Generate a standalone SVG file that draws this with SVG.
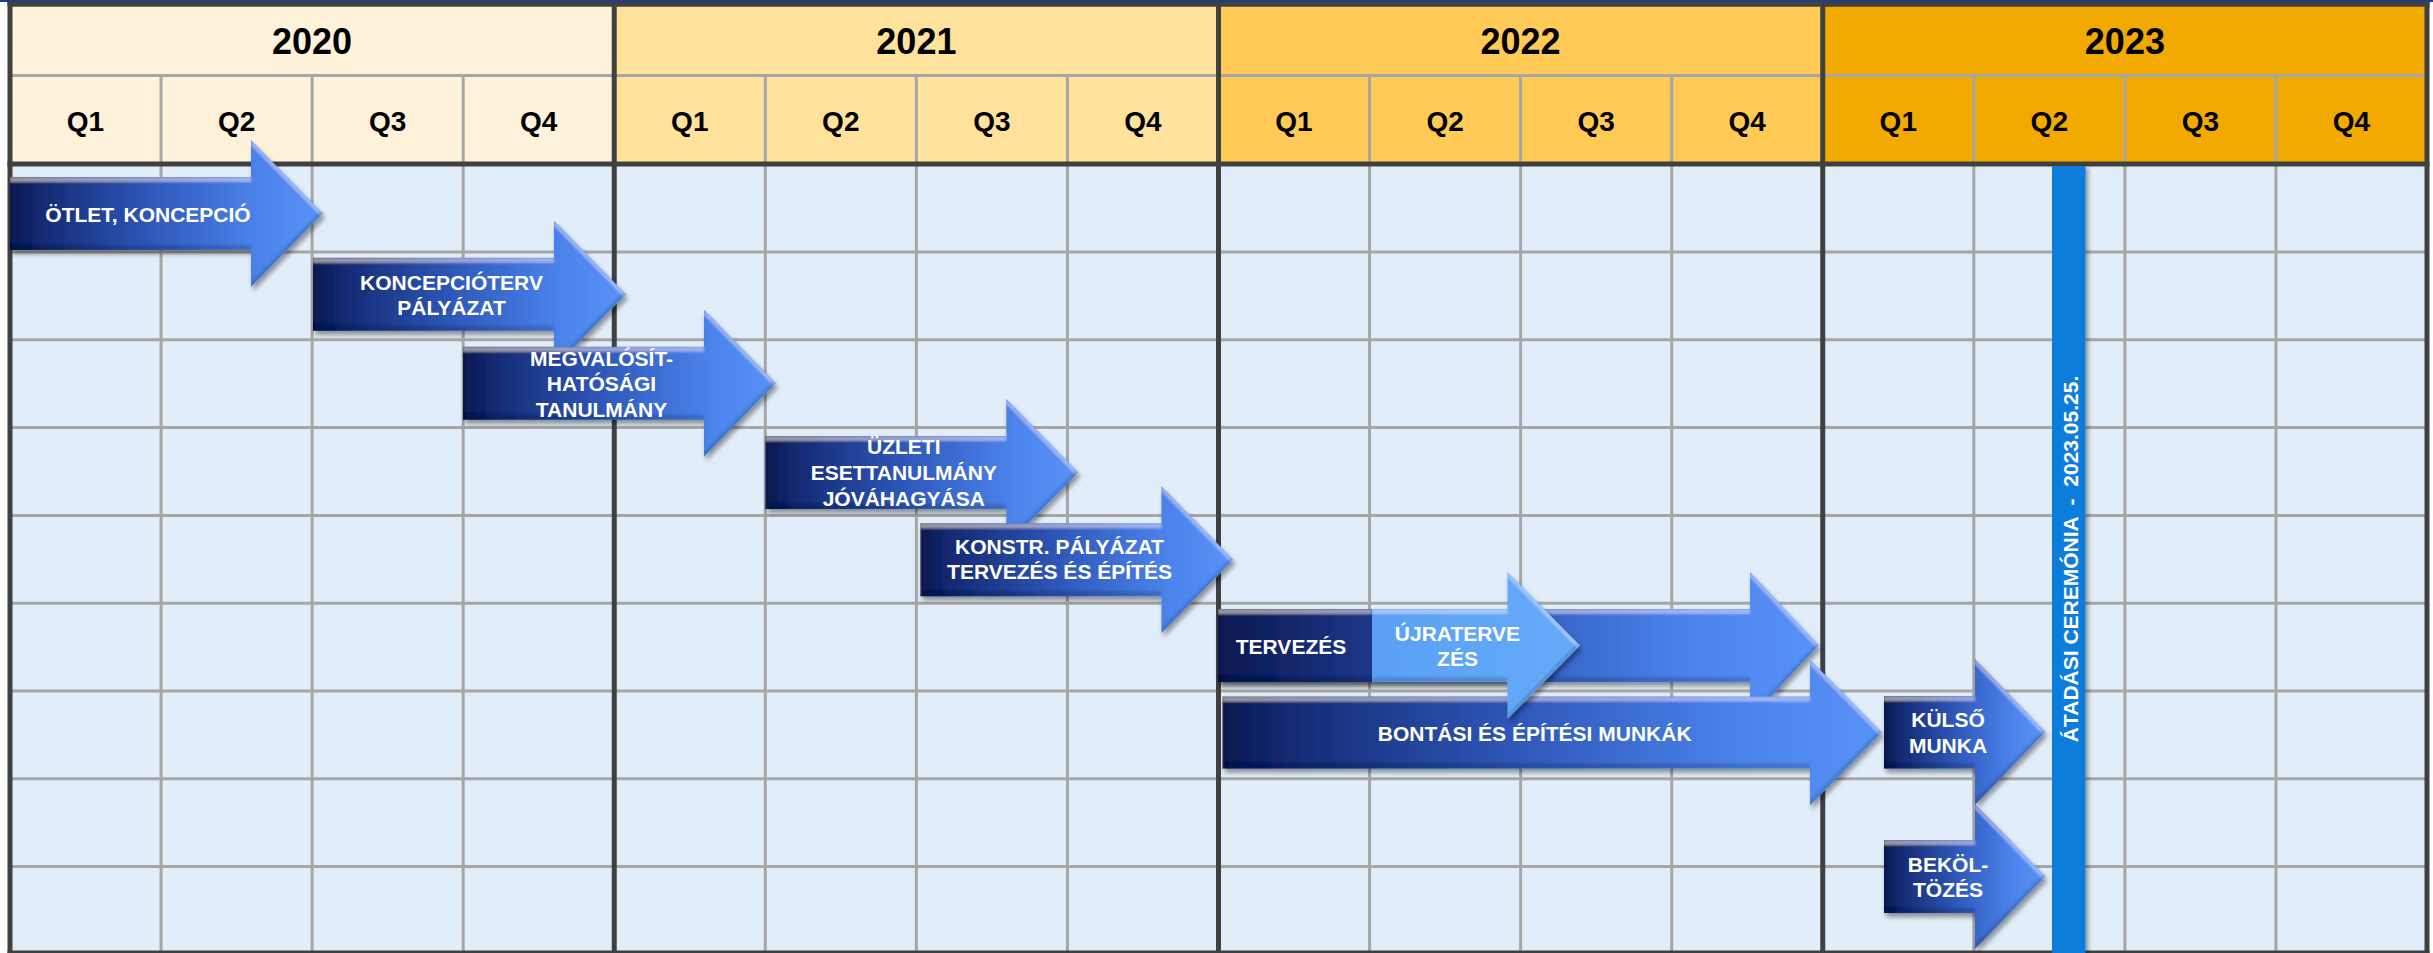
<svg xmlns="http://www.w3.org/2000/svg" width="2433" height="953" viewBox="0 0 2433 953">
<defs>
<style>
.yr{font-family:"Liberation Sans",Arial,sans-serif;font-weight:bold;font-size:36px;fill:#000;text-anchor:middle}
.q{font-family:"Liberation Sans",Arial,sans-serif;font-weight:bold;font-size:28px;fill:#000;text-anchor:middle}
.lbl{font-family:"Liberation Sans",Arial,sans-serif;font-weight:bold;font-size:21px;fill:#fff;text-anchor:middle}
.g{stroke:#A6A6A6;stroke-width:3;fill:none}
.d{stroke:#404040;stroke-width:5;fill:none}
.arr{fill:url(#ag);filter:url(#bev)}
</style>
<linearGradient id="ag" x1="0" y1="0" x2="1" y2="0">
<stop offset="0" stop-color="#0A184F"/>
<stop offset="0.1" stop-color="#142A72"/>
<stop offset="0.45" stop-color="#2F58BA"/>
<stop offset="0.8" stop-color="#4C84EC"/>
<stop offset="1" stop-color="#5893F6"/>
</linearGradient>
<linearGradient id="dg" x1="0" y1="0" x2="1" y2="0">
<stop offset="0" stop-color="#0A184F"/>
<stop offset="1" stop-color="#1E378A"/>
</linearGradient>
<linearGradient id="lg" x1="0" y1="0" x2="1" y2="0">
<stop offset="0" stop-color="#5AA0F5"/>
<stop offset="1" stop-color="#66ABF9"/>
</linearGradient>
<filter id="bev" x="-5%" y="-20%" width="115%" height="150%">
<feGaussianBlur in="SourceAlpha" stdDeviation="2.5" result="b"/>
<feOffset in="b" dx="2" dy="4" result="ob"/>
<feComponentTransfer in="ob" result="sh"><feFuncA type="linear" slope="0.4"/></feComponentTransfer>
<feOffset in="SourceAlpha" dx="0" dy="5" result="dn"/>
<feComposite in="SourceAlpha" in2="dn" operator="out" result="topband"/>
<feGaussianBlur in="topband" stdDeviation="1.2" result="tb"/>
<feFlood flood-color="#FFFFFF" flood-opacity="0.3"/>
<feComposite in2="tb" operator="in" result="hl"/>
<feComposite in="hl" in2="SourceAlpha" operator="in" result="hl2"/>
<feOffset in="SourceAlpha" dx="0" dy="-5" result="up"/>
<feComposite in="SourceAlpha" in2="up" operator="out" result="botband"/>
<feGaussianBlur in="botband" stdDeviation="1.2" result="bb"/>
<feFlood flood-color="#000000" flood-opacity="0.3"/>
<feComposite in2="bb" operator="in" result="dk"/>
<feComposite in="dk" in2="SourceAlpha" operator="in" result="dk2"/>
<feMerge><feMergeNode in="sh"/><feMergeNode in="SourceGraphic"/><feMergeNode in="hl2"/><feMergeNode in="dk2"/></feMerge>
</filter>
<filter id="bsh" x="-30%" y="-2%" width="180%" height="104%">
<feGaussianBlur in="SourceAlpha" stdDeviation="2" result="b"/>
<feOffset in="b" dx="3" dy="2" result="ob"/>
<feComponentTransfer in="ob" result="sh"><feFuncA type="linear" slope="0.35"/></feComponentTransfer>
<feMerge><feMergeNode in="sh"/><feMergeNode in="SourceGraphic"/></feMerge>
</filter>
<path id="a313" d="M0,0 H241 V-37 L313,36.5 L241,110 V73 H0 Z"/>
</defs>

<g id="background">
<rect x="0" y="0" width="2433" height="953" fill="#FFFFFF"/>
<rect x="0" y="0" width="2433" height="2" fill="#1F3C88"/>
<rect x="10" y="4" width="604.25" height="160" fill="#FEF2DB"/>
<rect x="614.25" y="4" width="604.25" height="160" fill="#FFE29C"/>
<rect x="1218.5" y="4" width="604.25" height="160" fill="#FFCA55"/>
<rect x="1822.75" y="4" width="604.25" height="160" fill="#F2AA00"/>
<rect x="10" y="164" width="2417" height="789" fill="#E1EDF8"/>
</g>

<g id="grid">
<line class="g" x1="10" y1="75.5" x2="2427" y2="75.5"/>
<line class="g" x1="10" y1="252" x2="2427" y2="252"/>
<line class="g" x1="10" y1="339.8" x2="2427" y2="339.8"/>
<line class="g" x1="10" y1="427.6" x2="2427" y2="427.6"/>
<line class="g" x1="10" y1="515.4" x2="2427" y2="515.4"/>
<line class="g" x1="10" y1="603.2" x2="2427" y2="603.2"/>
<line class="g" x1="10" y1="691" x2="2427" y2="691"/>
<line class="g" x1="10" y1="778.8" x2="2427" y2="778.8"/>
<line class="g" x1="10" y1="866.6" x2="2427" y2="866.6"/>
<line class="g" x1="161.06" y1="75.5" x2="161.06" y2="953"/>
<line class="g" x1="312.13" y1="75.5" x2="312.13" y2="953"/>
<line class="g" x1="463.19" y1="75.5" x2="463.19" y2="953"/>
<line class="g" x1="765.31" y1="75.5" x2="765.31" y2="953"/>
<line class="g" x1="916.38" y1="75.5" x2="916.38" y2="953"/>
<line class="g" x1="1067.44" y1="75.5" x2="1067.44" y2="953"/>
<line class="g" x1="1369.56" y1="75.5" x2="1369.56" y2="953"/>
<line class="g" x1="1520.63" y1="75.5" x2="1520.63" y2="953"/>
<line class="g" x1="1671.69" y1="75.5" x2="1671.69" y2="953"/>
<line class="g" x1="1973.81" y1="75.5" x2="1973.81" y2="953"/>
<line class="g" x1="2124.88" y1="75.5" x2="2124.88" y2="953"/>
<line class="g" x1="2275.94" y1="75.5" x2="2275.94" y2="953"/>
<line class="d" x1="7.5" y1="4.2" x2="2429.5" y2="4.2"/>
<line class="d" x1="7.5" y1="164" x2="2429.5" y2="164"/>
<line class="d" x1="7.5" y1="953" x2="2429.5" y2="953"/>
<line class="d" x1="10" y1="2" x2="10" y2="953"/>
<line class="d" x1="614.25" y1="2" x2="614.25" y2="953"/>
<line class="d" x1="1218.5" y1="2" x2="1218.5" y2="953"/>
<line class="d" x1="1822.75" y1="2" x2="1822.75" y2="953"/>
<line class="d" x1="2427" y1="2" x2="2427" y2="953"/>
</g>

<g id="header">
<text class="yr" x="312.1" y="54">2020</text>
<text class="yr" x="916.4" y="54">2021</text>
<text class="yr" x="1520.6" y="54">2022</text>
<text class="yr" x="2124.9" y="54">2023</text>
<text class="q" x="85.5" y="131">Q1</text>
<text class="q" x="236.6" y="131">Q2</text>
<text class="q" x="387.7" y="131">Q3</text>
<text class="q" x="538.7" y="131">Q4</text>
<text class="q" x="689.8" y="131">Q1</text>
<text class="q" x="840.8" y="131">Q2</text>
<text class="q" x="991.9" y="131">Q3</text>
<text class="q" x="1143" y="131">Q4</text>
<text class="q" x="1294" y="131">Q1</text>
<text class="q" x="1445.1" y="131">Q2</text>
<text class="q" x="1596.2" y="131">Q3</text>
<text class="q" x="1747.2" y="131">Q4</text>
<text class="q" x="1898.3" y="131">Q1</text>
<text class="q" x="2049.3" y="131">Q2</text>
<text class="q" x="2200.4" y="131">Q3</text>
<text class="q" x="2351.5" y="131">Q4</text>
</g>

<g id="connectors"></g>

<g id="otlet">
<use href="#a313" class="arr" transform="translate(10,177)"/>
<text class="lbl" x="148" y="221.7">ÖTLET, KONCEPCIÓ</text>
</g>
<g id="koncepcioterv">
<use href="#a313" class="arr" transform="translate(313,257.7)"/>
<text class="lbl" x="451.5" y="289.5">KONCEPCIÓTERV</text>
<text class="lbl" x="451.5" y="314.5">PÁLYÁZAT</text>
</g>
<g id="megvalosit">
<use href="#a313" class="arr" transform="translate(463,346.7)"/>
<text class="lbl" x="601.5" y="365.7">MEGVALÓSÍT-</text>
<text class="lbl" x="601.5" y="391.2">HATÓSÁGI</text>
<text class="lbl" x="601.5" y="416.7">TANULMÁNY</text>
</g>
<g id="uzleti">
<use href="#a313" class="arr" transform="translate(765.3,436)"/>
<text class="lbl" x="903.8" y="454.3">ÜZLETI</text>
<text class="lbl" x="903.8" y="480">ESETTANULMÁNY</text>
<text class="lbl" x="903.8" y="505.7">JÓVÁHAGYÁSA</text>
</g>
<g id="konstr">
<use href="#a313" class="arr" transform="translate(920.4,523.3)"/>
<text class="lbl" x="1059.5" y="554">KONSTR. PÁLYÁZAT</text>
<text class="lbl" x="1059.5" y="579.3">TERVEZÉS ÉS ÉPÍTÉS</text>
</g>
<g id="tervezes-arrow">
<path class="arr" transform="translate(1218,609)" d="M0,0 H532 V-37 L601,36.5 L532,110 V73 H0 Z"/>
</g>
<g id="bontasi">
<path class="arr" transform="translate(1222.5,696.5)" d="M0,0 H587.5 V-37 L659.5,36 L587.5,109 V72 H0 Z"/>
<text class="lbl" x="1534.7" y="741">BONTÁSI ÉS ÉPÍTÉSI MUNKÁK</text>
</g>
<g id="tervezes">
<rect x="1218" y="609" width="154" height="73" fill="url(#dg)" filter="url(#bev)"/>
<text class="lbl" x="1291" y="654.3">TERVEZÉS</text>
</g>
<g id="ujratervezes">
<path transform="translate(1372,609)" d="M0,0 H135.5 V-37 L208,36.5 L135.5,110 V73 H0 Z" fill="url(#lg)" filter="url(#bev)"/>
<text class="lbl" x="1457.5" y="641">ÚJRATERVE</text>
<text class="lbl" x="1457.5" y="666">ZÉS</text>
</g>
<g id="kulso">
<path class="arr" transform="translate(1884,696)" d="M0,0 H91 V-37 L161.5,36 L91,109 V72.5 H0 Z"/>
<text class="lbl" x="1948" y="726.7">KÜLSŐ</text>
<text class="lbl" x="1948" y="752.7">MUNKA</text>
</g>
<g id="bekoltozes">
<path class="arr" transform="translate(1884,840)" d="M0,0 H91 V-36 L161.5,36.5 L91,109 V73 H0 Z"/>
<text class="lbl" x="1948" y="871.7">BEKÖL-</text>
<text class="lbl" x="1948" y="896.7">TÖZÉS</text>
</g>
<g id="ceremonia">
<rect x="2052" y="166" width="33.5" height="787" fill="#0A7BDB" filter="url(#bsh)"/>
<text class="lbl" xml:space="preserve" transform="translate(2077.5,559) rotate(-90)">ÁTADÁSI CEREMÓNIA  -  2023.05.25.</text>
</g>
</svg>
